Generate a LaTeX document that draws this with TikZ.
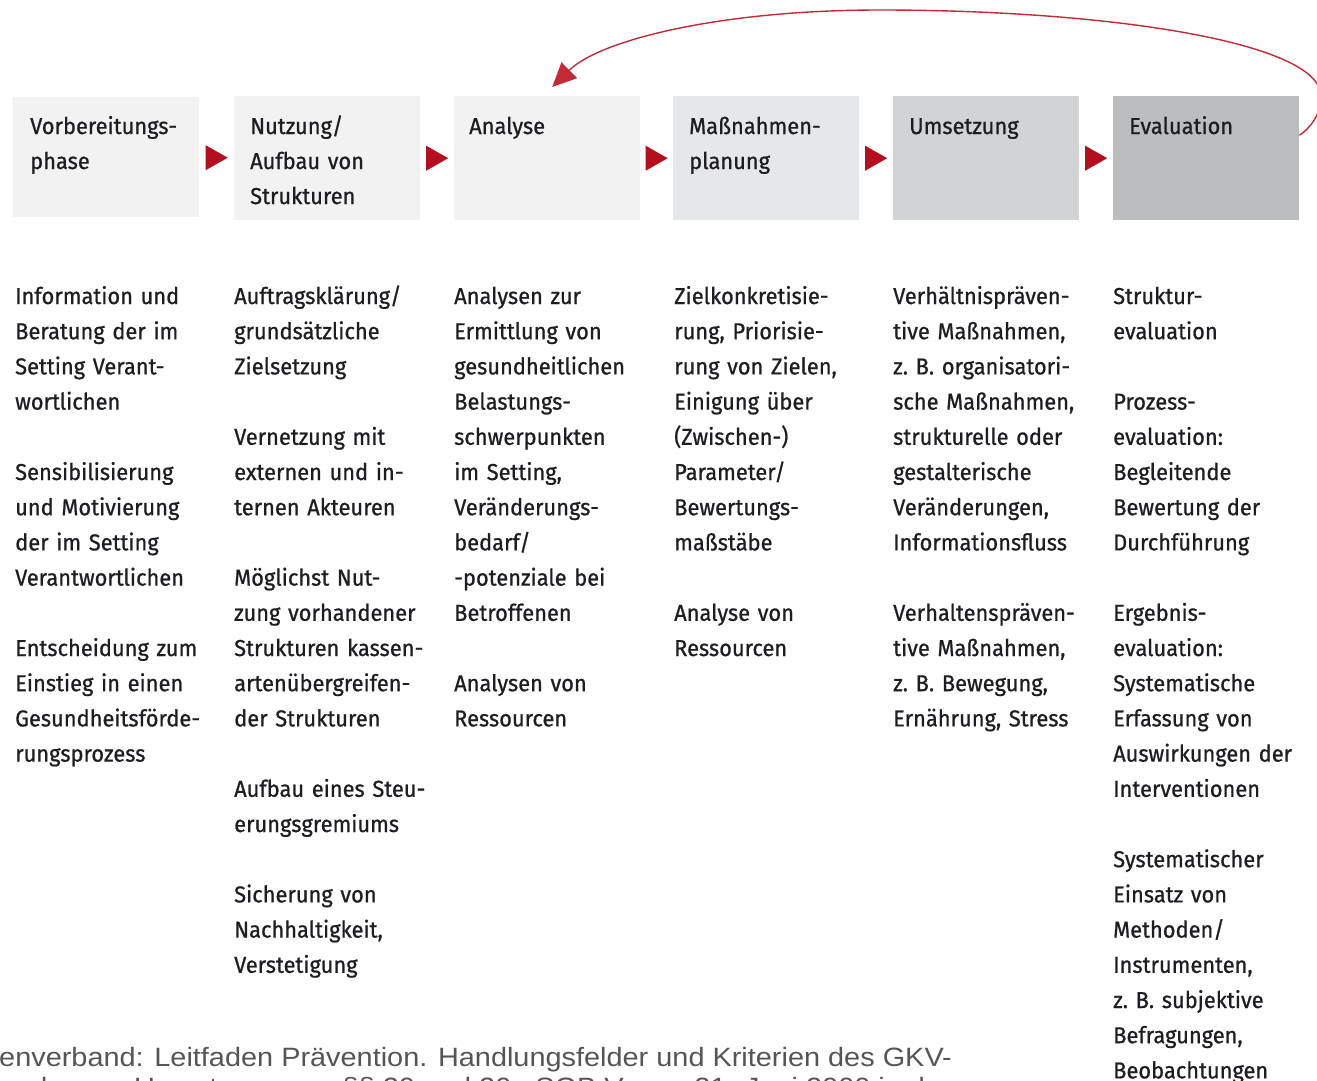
\documentclass[tikz,border=0pt]{standalone}
\usepackage{fontspec}
\setmainfont{Fira Sans}[FakeStretch=0.95,FakeBold=0.8]
\newfontfamily\footfont{Liberation Sans}[FakeStretch=1.09]
\usetikzlibrary{calc,arrows.meta}
\definecolor{ink}{HTML}{1E1E22}
\definecolor{flowred}{HTML}{B30F1F}
\definecolor{loopred}{HTML}{C22A36}
\definecolor{shadeA}{HTML}{F2F2F2}
\definecolor{shadeB}{HTML}{E6E7E8}
\definecolor{shadeC}{HTML}{D1D3D4}
\definecolor{shadeD}{HTML}{BBBDBF}
\definecolor{footgray}{HTML}{555555}
\tikzset{
  phasebox/.style={anchor=north west, inner sep=0pt, minimum width=186pt, minimum height=124pt},
  phaselabel/.style={anchor=base west, inner sep=0pt, text width=170pt, align=left,
    font=\fontsize{23}{35}\selectfont, text=ink},
  bodytext/.style={anchor=base west, inner sep=0pt, text width=215pt, align=left,
    font=\fontsize{23}{35.2}\selectfont, text=ink},
  footline/.style={anchor=base west, inner sep=0pt, font=\footfont\fontsize{26.5}{30}\selectfont, text=footgray},
  loop/.style={draw=loopred, line width=1.4pt, -{Triangle[length=24pt,width=22pt]}},
}
% red triangle between two neighbouring phase boxes
\newcommand{\steptri}[2]{%
  \fill[flowred] ($(#1.east)!0.5!(#2.west)$) +(-11,-12.5) -- +(11,0) -- +(-11,12.5) -- cycle;}
\begin{document}
\begin{tikzpicture}[x=1pt,y=-1pt]
\useasboundingbox (0,0) rectangle (1317,1081);
\begin{scope}
\clip (0,0) rectangle (1317,1081);

% phase boxes
\node[phasebox, fill=shadeA, minimum height=120pt] (P1) at (13,97) {};
\node[phasebox, fill=shadeA] (P2) at (234,96) {};
\node[phasebox, fill=shadeA] (P3) at (454,96) {};
\node[phasebox, fill=shadeB] (P4) at (673,96) {};
\node[phasebox, fill=shadeC] (P5) at (893,96) {};
\node[phasebox, fill=shadeD] (P6) at (1113,96) {};

% phase titles
\node[phaselabel] (L1) at (30,134) {Vorbereitungs-\\phase};
\node[phaselabel] (L2) at (250,134) {Nutzung/\\Aufbau von\\Strukturen};
\node[phaselabel] (L3) at (469,134) {Analyse};
\node[phaselabel] (L4) at (689,134) {Maßnahmen-\\planung};
\node[phaselabel] (L5) at (909,134) {Umsetzung};
\node[phaselabel] (L6) at (1129,134) {Evaluation};

% flow between phases
\steptri{P1}{P2}
\steptri{P2}{P3}
\steptri{P3}{P4}
\steptri{P4}{P5}
\steptri{P5}{P6}

% feedback loop from evaluation back to analysis
\draw[loop] ([yshift=23pt]P6.east) .. controls (1314,126) and (1325,105) .. (1320,90)
  .. controls (1305,40) and (1100,10) .. (880,10)
  .. controls (720,10) and (600,40) .. ([xshift=5pt,yshift=9pt]P3.north);

% column texts
\node[bodytext] (C1) at (15,304) {Information und\\Beratung der im\\Setting Verant-\\wortlichen\\[35.2pt]
Sensibilisierung\\und Motivierung\\der im Setting\\Verantwortlichen\\[35.2pt]
Entscheidung zum\\Einstieg in einen\\Gesundheitsförde-\\rungsprozess};

\node[bodytext] (C2) at (234,304) {Auftragsklärung/\\grundsätzliche\\Zielsetzung\\[35.2pt]
Vernetzung mit\\externen und in-\\ternen Akteuren\\[35.2pt]
Möglichst Nut-\\zung vorhandener\\Strukturen kassen-\\artenübergreifen-\\der Strukturen\\[35.2pt]
Aufbau eines Steu-\\erungsgremiums\\[35.2pt]
Sicherung von\\Nachhaltigkeit,\\Verstetigung};

\node[bodytext] (C3) at (454,304) {Analysen zur\\Ermittlung von\\gesundheitlichen\\Belastungs-\\schwerpunkten\\im Setting,\\Veränderungs-\\bedarf/\\-potenziale bei\\Betroffenen\\[35.2pt]
Analysen von\\Ressourcen};

\node[bodytext] (C4) at (674,304) {Zielkonkretisie-\\rung, Priorisie-\\rung von Zielen,\\Einigung über\\(Zwischen-)\\Parameter/\\Bewertungs-\\maßstäbe\\[35.2pt]
Analyse von\\Ressourcen};

\node[bodytext] (C5) at (893,304) {Verhältnispräven-\\tive Maßnahmen,\\z.~B. organisatori-\\sche Maßnahmen,\\strukturelle oder\\gestalterische\\Veränderungen,\\Informationsfluss\\[35.2pt]
Verhaltenspräven-\\tive Maßnahmen,\\z.~B. Bewegung,\\Ernährung, Stress};

\node[bodytext] (C6) at (1113,304) {Struktur-\\evaluation\\[35.2pt]
Prozess-\\evaluation:\\Begleitende\\Bewertung der\\Durchführung\\[35.2pt]
Ergebnis-\\evaluation:\\Systematische\\Erfassung von\\Auswirkungen der\\Interventionen\\[35.2pt]
Systematischer\\Einsatz von\\Methoden/\\Instrumenten,\\z.~B. subjektive\\Befragungen,\\Beobachtungen};

% source line
\node[footline] (F1) at (-1,1066) {enverband: Leitfaden Prävention. Handlungsfelder und Kriterien des GKV-};
\node[footline] (F2) at (-1,1096) {andes zur Umsetzung von §§ 20 und 20a SGB V vom 21. Juni 2000 in der};
\end{scope}
\end{tikzpicture}
\end{document}
